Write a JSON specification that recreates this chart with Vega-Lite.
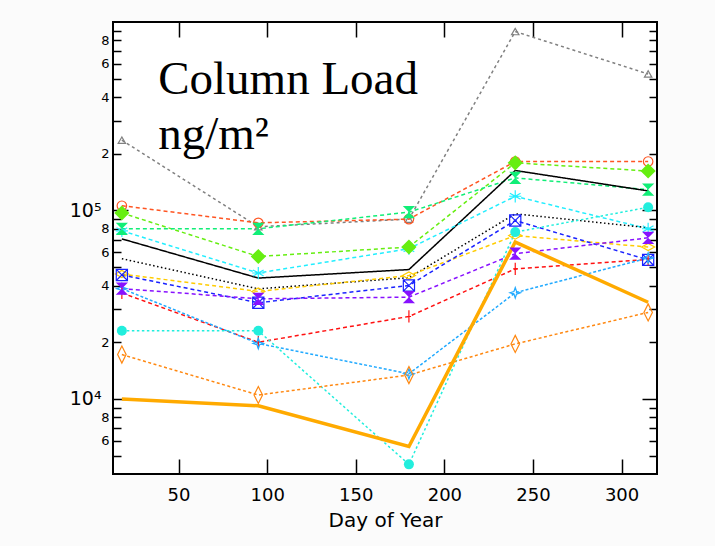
{
  "$schema": "https://vega.github.io/schema/vega-lite/v6.json",
  "width": 544,
  "height": 452,
  "autosize": {"type": "none"},
  "padding": {"left": 113, "top": 22, "right": 58, "bottom": 72},
  "background": "#fbfbfb",
  "config": {
    "view": {"fill": "white", "stroke": "black", "strokeWidth": 2},
    "axis": {"domain": false, "grid": false, "labelFont": "DejaVu Sans", "titleFont": "DejaVu Sans", "labelColor": "black", "titleColor": "black", "tickColor": "black", "titleFontWeight": "normal", "tickWidth": 1.5}
  },
  "data": {"values": [
    {"s": "S01", "day": 18, "load": 236000}, {"s": "S01", "day": 95, "load": 82000}, {"s": "S01", "day": 180, "load": 90000}, {"s": "S01", "day": 240, "load": 890000}, {"s": "S01", "day": 315, "load": 530000},
    {"s": "S02", "day": 18, "load": 106000}, {"s": "S02", "day": 95, "load": 86000}, {"s": "S02", "day": 180, "load": 90000}, {"s": "S02", "day": 240, "load": 182000}, {"s": "S02", "day": 315, "load": 182000},
    {"s": "S03", "day": 18, "load": 97000}, {"s": "S03", "day": 95, "load": 57000}, {"s": "S03", "day": 180, "load": 64000}, {"s": "S03", "day": 240, "load": 179000}, {"s": "S03", "day": 315, "load": 162000},
    {"s": "S04", "day": 18, "load": 80000}, {"s": "S04", "day": 95, "load": 80000}, {"s": "S04", "day": 180, "load": 98000}, {"s": "S04", "day": 240, "load": 149000}, {"s": "S04", "day": 315, "load": 129000},
    {"s": "S05", "day": 18, "load": 70700}, {"s": "S05", "day": 95, "load": 43800}, {"s": "S05", "day": 180, "load": 48600}, {"s": "S05", "day": 240, "load": 163000}, {"s": "S05", "day": 315, "load": 127000},
    {"s": "S06", "day": 18, "load": 78000}, {"s": "S06", "day": 95, "load": 46600}, {"s": "S06", "day": 180, "load": 62700}, {"s": "S06", "day": 240, "load": 119000}, {"s": "S06", "day": 315, "load": 80000},
    {"s": "S07", "day": 18, "load": 55500}, {"s": "S07", "day": 95, "load": 38400}, {"s": "S07", "day": 180, "load": 44000}, {"s": "S07", "day": 240, "load": 96000}, {"s": "S07", "day": 315, "load": 81000},
    {"s": "S08", "day": 18, "load": 46000}, {"s": "S08", "day": 95, "load": 37200}, {"s": "S08", "day": 180, "load": 45200}, {"s": "S08", "day": 240, "load": 73600}, {"s": "S08", "day": 315, "load": 64000},
    {"s": "S09", "day": 18, "load": 45500}, {"s": "S09", "day": 95, "load": 32400}, {"s": "S09", "day": 180, "load": 40000}, {"s": "S09", "day": 240, "load": 88500}, {"s": "S09", "day": 315, "load": 54700},
    {"s": "S10", "day": 18, "load": 38500}, {"s": "S10", "day": 95, "load": 34000}, {"s": "S10", "day": 180, "load": 34700}, {"s": "S10", "day": 240, "load": 59000}, {"s": "S10", "day": 315, "load": 71600},
    {"s": "S11", "day": 18, "load": 36500}, {"s": "S11", "day": 95, "load": 20000}, {"s": "S11", "day": 180, "load": 27400}, {"s": "S11", "day": 240, "load": 49000}, {"s": "S11", "day": 315, "load": 55000},
    {"s": "S12", "day": 18, "load": 38500}, {"s": "S12", "day": 95, "load": 19700}, {"s": "S12", "day": 180, "load": 13600}, {"s": "S12", "day": 240, "load": 36600}, {"s": "S12", "day": 315, "load": 56000},
    {"s": "S13", "day": 18, "load": 23000}, {"s": "S13", "day": 95, "load": 23000}, {"s": "S13", "day": 180, "load": 4500}, {"s": "S13", "day": 240, "load": 76800}, {"s": "S13", "day": 315, "load": 104000},
    {"s": "S14", "day": 18, "load": 17200}, {"s": "S14", "day": 95, "load": 10500}, {"s": "S14", "day": 180, "load": 13400}, {"s": "S14", "day": 240, "load": 19600}, {"s": "S14", "day": 315, "load": 28800},
    {"s": "S15", "day": 18, "load": 10000}, {"s": "S15", "day": 95, "load": 9200}, {"s": "S15", "day": 180, "load": 5600}, {"s": "S15", "day": 240, "load": 68000}, {"s": "S15", "day": 315, "load": 32600}
  ]},
  "layer": [
    {
      "transform": [{"filter": "datum.s != 'S15'"}],
      "mark": {"type": "line", "strokeWidth": 1.5},
      "encoding": {
        "x": {"field": "day", "type": "quantitative", "scale": {"domain": [13, 320], "nice": false, "zero": false},
              "axis": {"orient": "bottom", "values": [50, 100, 150, 200, 250, 300], "ticks": false, "labelPadding": 12, "labelFontSize": 18, "title": "Day of Year", "titleFontSize": 20, "titlePadding": 6}},
        "y": {"field": "load", "type": "quantitative", "scale": {"type": "log", "domain": [4000, 1000000], "nice": false},
              "axis": {"orient": "left", "title": null, "ticks": false,
                       "values": [6000, 8000, 10000, 20000, 40000, 60000, 80000, 100000, 200000, 400000, 600000, 800000],
                       "labelExpr": "datum.value == 10000 ? '10⁴' : datum.value == 100000 ? '10⁵' : substring(toString(datum.value), 0, 1)",
                       "labelFontSize": {"condition": {"test": "datum.value == 10000 || datum.value == 100000", "value": 19}, "value": 13},
                       "labelPadding": {"condition": {"test": "datum.value == 10000 || datum.value == 100000", "value": 12}, "value": 4}}},
        "stroke": {"field": "s", "type": "nominal", "legend": null,
                   "scale": {"domain": ["S01","S02","S03","S04","S05","S06","S07","S08","S09","S10","S11","S12","S13","S14","S15"],
                             "range": ["#808080","#ff5522","#66ee11","#11ee77","#000000","#22eeff","#000000","#ffcc00","#1a22ff","#8811ff","#ff1111","#22aaff","#22eedd","#ff8811","#ffaa00"]}},
        "strokeDash": {"field": "s", "type": "nominal", "legend": null,
                       "scale": {"domain": ["S01","S02","S03","S04","S05","S06","S07","S08","S09","S10","S11","S12","S13","S14","S15"],
                                 "range": [[3,3],[4,3],[4,3],[4,3],[1,0],[4,3],[1.5,2.5],[4,3],[4,3],[4,3],[4,3],[3,2],[2.5,2.5],[3,2.5],[1,0]]}}
      }
    },
    {
      "transform": [{"filter": "datum.s == 'S15'"}],
      "mark": {"type": "line", "strokeWidth": 3.5, "color": "#ffaa00"},
      "encoding": {
        "x": {"field": "day", "type": "quantitative", "axis": null},
        "y": {"field": "load", "type": "quantitative", "axis": null}
      }
    },
    {
      "transform": [{"filter": {"field": "s", "oneOf": ["S01","S02","S06","S08","S09","S11","S12","S14"]}}],
      "mark": {"type": "point", "filled": false, "strokeWidth": 1.2, "opacity": 1},
      "encoding": {
        "x": {"field": "day", "type": "quantitative",
              "axis": {"orient": "bottom", "values": [50, 100, 150, 200, 250, 300], "labels": false, "tickSize": -15, "title": null}},
        "y": {"field": "load", "type": "quantitative",
              "axis": {"orient": "left", "labels": false, "title": null,
                       "values": [5000,6000,7000,8000,9000,10000,20000,30000,40000,50000,60000,70000,80000,90000,100000,200000,300000,400000,500000,600000,700000,800000,900000],
                       "tickSize": {"condition": {"test": "datum.value == 10000 || datum.value == 100000", "value": -15}, "value": -8}}},
        "stroke": {"field": "s", "type": "nominal", "legend": null},
        "shape": {"field": "s", "type": "nominal", "legend": null,
                  "scale": {"domain": ["S01","S02","S06","S08","S09","S11","S12","S14"],
                            "range": ["triangle-up", "circle", "M0,-1L0,1M-0.87,-0.5L0.87,0.5M-0.87,0.5L0.87,-0.5M-1,0L1,0", "M-1,0L0,-0.55L1,0L0,0.55Z", "M-1,-1L1,-1L1,1L-1,1ZM-1,-1L1,1M1,-1L-1,1", "M0,-1L0,1M-0.35,0L0.35,0", "M0,-1L0.25,-0.25L1,0L0.25,0.25L0,1L-0.25,0.25L-1,0L-0.25,-0.25Z", "M0,-1L0.5,0L0,1L-0.5,0Z"]}},
        "size": {"field": "s", "type": "nominal", "legend": null,
                 "scale": {"type": "ordinal", "domain": ["S01","S02","S06","S08","S09","S11","S12","S14"],
                           "range": [55, 90, 150, 170, 125, 150, 110, 290]}}
      }
    },
    {
      "transform": [{"filter": {"field": "s", "oneOf": ["S03","S04","S10","S13"]}}],
      "mark": {"type": "point", "filled": true, "opacity": 1, "strokeWidth": 0},
      "encoding": {
        "x": {"field": "day", "type": "quantitative",
              "axis": {"orient": "top", "values": [50, 100, 150, 200, 250, 300], "labels": false, "tickSize": -15, "title": null}},
        "y": {"field": "load", "type": "quantitative",
              "axis": {"orient": "right", "labels": false, "title": null,
                       "values": [5000,6000,7000,8000,9000,10000,20000,30000,40000,50000,60000,70000,80000,90000,100000,200000,300000,400000,500000,600000,700000,800000,900000],
                       "tickSize": {"condition": {"test": "datum.value == 10000 || datum.value == 100000", "value": -15}, "value": -8}}},
        "fill": {"field": "s", "type": "nominal", "legend": null,
                 "scale": {"domain": ["S03","S04","S10","S13"], "range": ["#66ee11","#11ee77","#8811ff","#22eedd"]}},
        "shape": {"field": "s", "type": "nominal", "legend": null,
                  "scale": {"domain": ["S03","S04","S10","S13"], "range": ["diamond", "M-1,-1L1,-1L-1,1L1,1Z", "M-1,-1L1,-1L-1,1L1,1Z", "circle"]}},
        "size": {"field": "s", "type": "nominal", "legend": null,
                 "scale": {"type": "ordinal", "domain": ["S03","S04","S10","S13"], "range": [230, 150, 150, 100]}}
      }
    },
    {
      "data": {"values": [{}]},
      "mark": {"type": "text", "text": "Column Load", "font": "Liberation Serif", "fontSize": 47, "align": "left", "baseline": "alphabetic", "color": "black"},
      "encoding": {
        "x": {"datum": 38.5, "type": "quantitative", "axis": null},
        "y": {"datum": 417000, "type": "quantitative", "axis": null}
      }
    },
    {
      "data": {"values": [{}]},
      "mark": {"type": "text", "text": "ng/m²", "font": "Liberation Serif", "fontSize": 47, "align": "left", "baseline": "alphabetic", "color": "black"},
      "encoding": {
        "x": {"datum": 38.5, "type": "quantitative", "axis": null},
        "y": {"datum": 213000, "type": "quantitative", "axis": null}
      }
    }
  ],
  "resolve": {
    "axis": {"x": "independent", "y": "independent"},
    "scale": {"shape": "independent", "size": "independent"}
  }
}
